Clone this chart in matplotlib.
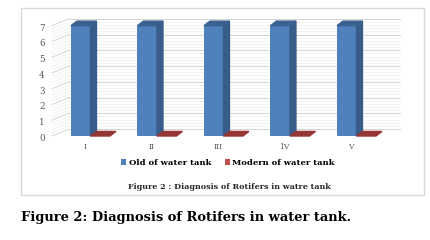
import numpy as np
import matplotlib.pyplot as plt
from matplotlib.patches import Polygon, Rectangle

# data
categories = ["I", "II", "III", "1V", "V"]
old_tank = [7, 7, 7, 7, 7]
modern_tank = [0, 0, 0, 0, 0]
series_names = ["Old of water tank", "Modern of water tank"]
y_ticks = [0, 1, 2, 3, 4, 5, 6, 7]

blue, blue_side, blue_top = "#4f81bd", "#385d8a", "#3b6190"
red, red_top = "#c0504d", "#943634"

W, H = 430, 240
fig = plt.figure(figsize=(W / 100, H / 100), dpi=100)
fig.patch.set_facecolor("white")

# chart box
fig.patches.append(Rectangle((21 / W, 1 - 195 / H), 403 / W, 187 / H,
                             transform=fig.transFigure, fill=False,
                             edgecolor="#d9d9d9", lw=1.0))

# axes laid out so 1 category = 66.5 px, 1 unit = 15.76 px
ax = fig.add_axes([40 / W, 1 - 150 / H, 370 / W, 135 / H])
ax.set_xlim(-0.759, 4.805)
ax.set_ylim(-0.888, 7.678)
ax.axis("off")

x = np.arange(len(categories))
w = 0.293          # bar front width
dx, dy = 0.09, 0.29  # bar depth
wx, wy = 0.256, 0.44  # wall depth
wall_l, wall_r = -0.323, 4.654

# back wall and left wall gridlines
for v in np.arange(0, 7.001, 0.2):
    major = abs(v - round(v)) < 1e-6
    c = "#d4d4d4" if major else "#efefef"
    lw = 0.7 if major else 0.5
    ax.plot([wall_l, wall_r], [v + wy, v + wy], color=c, lw=lw, zorder=1)
    ax.plot([wall_l - wx, wall_l], [v, v + wy], color=c, lw=lw, zorder=1)

# blue bars with their side and top faces
ax.bar(x - w, old_tank, width=w, align="edge", color=blue, zorder=3,
       label=series_names[0])
for xi, v in zip(x, old_tank):
    ax.add_patch(Polygon([(xi, 0), (xi + dx, dy), (xi + dx, v + dy), (xi, v)],
                         closed=True, color=blue_side, zorder=3))
    ax.add_patch(Polygon([(xi - w, v), (xi, v), (xi + dx, v + dy), (xi - w + dx, v + dy)],
                         closed=True, color=blue_top, zorder=3))

# red bars (zero height, only the flat top shows)
ax.bar(x, modern_tank, width=w, align="edge", color=red, zorder=4,
       label=series_names[1])
for xi, v in zip(x, modern_tank):
    ax.add_patch(Polygon([(xi, v), (xi + w, v), (xi + w + dx, v + dy), (xi + dx, v + dy)],
                         closed=True, color=red_top, zorder=4))

# tick labels
for t in y_ticks:
    ax.text(-0.729, t - 0.15, str(t), ha="center", va="center",
            fontsize=6.3, family="DejaVu Serif", color="#595959")
for xi, lab in zip(x, categories):
    ax.text(xi - 0.08, -0.70, lab, ha="center", va="center",
            fontsize=5.5, family="DejaVu Serif", color="#595959")

# legend
fig.legend(loc="center", bbox_to_anchor=(228 / W, 1 - 163 / H), ncol=2,
           frameon=False, handlelength=0.6, handleheight=0.6,
           handletextpad=0.3, columnspacing=1.6,
           prop={"family": "DejaVu Serif", "weight": "bold", "size": 6})

fig.text(229 / W, 1 - 187 / H, "Figure 2 : Diagnosis of Rotifers in watre tank",
         ha="center", va="center", fontsize=5.8, family="DejaVu Serif",
         weight="bold", color="#262626")

fig.text(21 / W, 1 - 218 / H, "Figure 2: Diagnosis of Rotifers in water tank.",
         ha="left", va="center", fontsize=9.4, family="DejaVu Serif",
         weight="bold", color="black")

plt.savefig("out.png", dpi=100)
